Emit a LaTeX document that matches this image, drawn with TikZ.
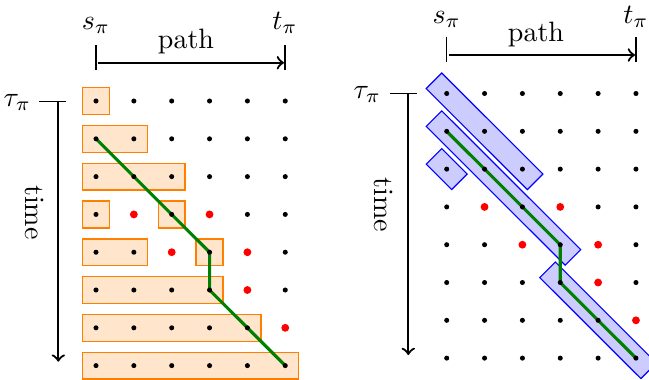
\documentclass[tikz,border=0pt]{standalone}
\usetikzlibrary{calc}
\pgfdeclarelayer{rects}
\pgfdeclarelayer{route}
\pgfsetlayers{rects,route,main}
\begin{document}
\begin{tikzpicture}[x=0.3571pt,y=-0.3571pt,
  dot/.style={circle,fill=black,inner sep=0pt,minimum size=1.8pt},
  reddot/.style={circle,fill=red,inner sep=0pt,minimum size=2.8pt},
  obox/.style={draw=orange,fill=orange!20,line width=0.5pt},
  bbox/.style={draw=blue,fill=blue!20,line width=0.4pt},
  routeline/.style={draw=green!50!black,line width=1.1pt},
  tickline/.style={line width=0.4pt},
  axisarrow/.style={->,line width=0.8pt},
  lbl/.style={inner sep=0pt}]
\useasboundingbox (0,0) rectangle (649,379);

% dot grids
\foreach \r in {0,...,7}{
  \foreach \c in {0,...,5}{
    \pgfmathtruncatemacro\isred{or(or(and(\r==3,or(\c==1,\c==3)),and(\r==4,or(\c==2,\c==4))),or(and(\r==5,\c==4),and(\r==6,\c==5)))}
    \ifnum\isred=1 \def\dotst{reddot}\else\def\dotst{dot}\fi
    \node[\dotst] (L-\r-\c) at ({96+37.85*\c},{101+37.8*\r}) {};
    \node[\dotst] (R-\r-\c) at ({446.7+37.85*\c},{93.5+37.8*\r}) {};
  }
}

% left boxes
\begin{pgfonlayer}{rects}
\foreach \r/\a/\b in {0/0/0,1/0/1,2/0/2,3/0/0,3/2/2,4/0/1,4/3/3,5/0/3,6/0/4,7/0/5}
  \draw[obox] ($(L-\r-\a)+(-13.4,-13.4)$) rectangle ($(L-\r-\b)+(13.4,13.4)$);
% right boxes
\foreach \a/\b in {R-0-0/R-2-2,R-1-0/R-4-3,R-2-0/R-2-0,R-5-3/R-7-5}
  \draw[bbox] ($(\a)+(-4.95,-20.5)$) -- ($(\b)+(20.5,4.95)$) -- ($(\b)+(4.95,20.5)$) -- ($(\a)+(-20.5,-4.95)$) -- cycle;
\end{pgfonlayer}

% routes
\begin{pgfonlayer}{route}
\draw[routeline] (L-1-0.center) -- (L-4-3.center) -- (L-5-3.center) -- (L-7-5.center);
\draw[routeline] (R-1-0.center) -- (R-4-3.center) -- (R-5-3.center) -- (R-7-5.center);
\end{pgfonlayer}

% left axes
\coordinate (Ls1) at (96,45);  \coordinate (Ls2) at (96,70);
\coordinate (Lt1) at (285,45); \coordinate (Lt2) at (285,70);
\draw[tickline] (Ls1) -- (Ls2);
\draw[tickline] (Lt1) -- (Lt2);
\coordinate (La1) at (98,62.7); \coordinate (La2) at (284,62.7);
\draw[axisarrow] (La1) -- (La2);
\node[lbl,anchor=base] (Ls) at (96,29.5) {$s_\pi$};
\node[lbl,anchor=base] (Lt) at (285,29.5) {$t_\pi$};
\node[lbl,anchor=base] (Lp) at (186,48) {path};
\node[lbl,anchor=base east] (Ltau) at (31.7,106) {$\tau_\pi$};
\coordinate (Lh1) at (39.3,101.3); \coordinate (Lh2) at (65.7,101.3);
\draw[tickline] (Lh1) -- (Lh2);
\coordinate (Lv1) at (58.3,101.3); \coordinate (Lv2) at (58.3,361.7);
\draw[axisarrow] (Lv1) -- (Lv2);
\node[lbl,rotate=-90] (Ltime) at (34.2,212.5) {time};

% right axes
\coordinate (Rs1) at (446.7,36.7); \coordinate (Rs2) at (446.7,62.3);
\coordinate (Rt1) at (636,36.7);   \coordinate (Rt2) at (636,62.3);
\draw[tickline] (Rs1) -- (Rs2);
\draw[tickline] (Rt1) -- (Rt2);
\coordinate (Ra1) at (448.7,55); \coordinate (Ra2) at (635,55);
\draw[axisarrow] (Ra1) -- (Ra2);
\node[lbl,anchor=base] (Rs) at (446.7,23.3) {$s_\pi$};
\node[lbl,anchor=base] (Rt) at (636,23.3) {$t_\pi$};
\node[lbl,anchor=base] (Rp) at (536,41.5) {path};
\node[lbl,anchor=base east] (Rtau) at (381.7,98.3) {$\tau_\pi$};
\coordinate (Rh1) at (390,93.3); \coordinate (Rh2) at (416.7,93.3);
\draw[tickline] (Rh1) -- (Rh2);
\coordinate (Rv1) at (408.3,93.3); \coordinate (Rv2) at (408.3,355);
\draw[axisarrow] (Rv1) -- (Rv2);
\node[lbl,rotate=-90] (Rtime) at (384,205) {time};
\end{tikzpicture}
\end{document}
